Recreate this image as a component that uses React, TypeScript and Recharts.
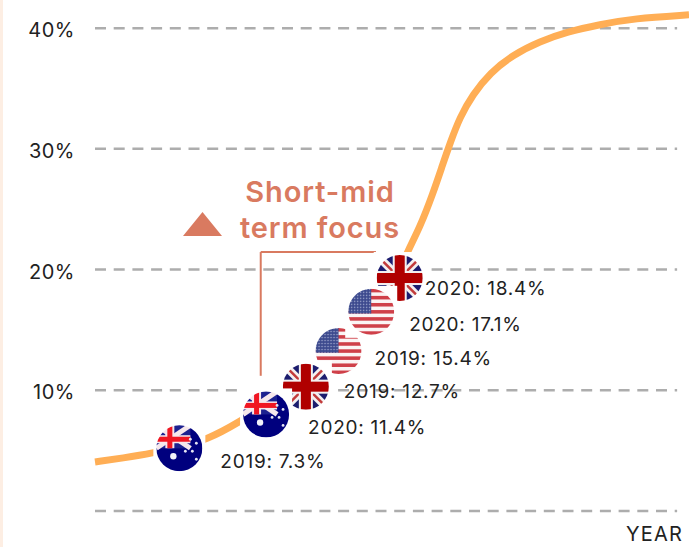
import { ComposedChart, Line, Scatter, XAxis, YAxis, ReferenceLine } from 'recharts'

const FONT = 'Inter, "Open Sans", sans-serif'
const ORANGE = '#ffae55'
const CORAL = '#d97a60'
const GRID = '#adadad'

// curve: x is a plain 0-100 position, the axis has no year ticks
const curveX = [0, 4.7, 9.8, 14, 18.9, 24.4, 28.8, 35.5, 40.9, 46.5, 51.3, 52.5, 54.7, 56.9, 58.6, 59.8, 61.4, 63.6, 66.5, 70.4, 74.9, 79.5, 85, 90.6, 100]
const curveY = [4.06, 4.39, 4.8, 5.3, 5.9, 7.4, 8.8, 11, 13.5, 16.65, 19.8, 21.4, 23.5, 26.3, 28.8, 30.5, 32.6, 34.5, 36.3, 37.8, 38.9, 39.7, 40.3, 40.8, 41.1]

// flags are listed in paint order, the white squares behind them overlap
const flagX = [51.3, 41, 46.5, 35.5, 28.8, 14.2]
const flagY = [19.3, 13.25, 16.5, 10.3, 8, 5.2]
const flagKind = ['uk', 'us', 'us', 'uk', 'au', 'au']
const flagText = ['2020: 18.4%', '2019: 15.4%', '2020: 17.1%', '2019: 12.7%', '2020: 11.4%', '2019: 7.3%']
const labelDx = [25, 36, 38, 38, 42, 41]
const labelDy = [10, 7, 13, 5, 13, 13]

const yTicks = [10, 20, 30, 40]
const gridLines = [0, 10, 20, 30, 40]
const gridEnd = 98

const curve = curveX.map((t, i) => ({ t, v: curveY[i] }))
const flags = flagX.map((t, i) => ({ t, v: flagY[i], kind: flagKind[i], text: flagText[i], dx: labelDx[i], dy: labelDy[i] }))

function UkFlag() {
  return (
    <g>
      <rect x={-23} y={-23} width={46} height={46} fill="#1b1f6e" />
      <line x1={-23} y1={-23} x2={23} y2={23} stroke="#f4f0f0" strokeWidth={8} />
      <line x1={-23} y1={23} x2={23} y2={-23} stroke="#f4f0f0" strokeWidth={8} />
      <line x1={-23} y1={-23} x2={23} y2={23} stroke="#c23a3a" strokeWidth={2.5} />
      <line x1={-23} y1={23} x2={23} y2={-23} stroke="#c23a3a" strokeWidth={2.5} />
      <rect x={-7} y={-23} width={14} height={46} fill="#f4f0f0" />
      <rect x={-23} y={-7} width={46} height={14} fill="#f4f0f0" />
      <rect x={-5} y={-23} width={10} height={46} fill="#b00000" />
      <rect x={-23} y={-5} width={46} height={10} fill="#b00000" />
    </g>
  )
}

function UsFlag() {
  const stripes = [0, 1, 2, 3, 4, 5, 6]
  return (
    <g>
      <rect x={-23} y={-23} width={46} height={46} fill="#fbf4f4" />
      {stripes.map(s => (
        <rect key={s} x={-23} y={-23 + s * 7.08} width={46} height={3.54} fill="#cf3f48" />
      ))}
      <rect x={-23} y={-23} width={23} height={24.8} fill="url(#usStars)" />
    </g>
  )
}

function AuFlag() {
  const stars = [[17, -5], [11, -9], [13, 3], [17, 11], [6, 3]]
  return (
    <g>
      <rect x={-23} y={-23} width={46} height={46} fill="#00007e" />
      <rect x={-23} y={-23} width={34} height={23} fill="#1f2090" />
      <line x1={-23} y1={-23} x2={11} y2={0} stroke="#f6e8ec" strokeWidth={5} />
      <line x1={-23} y1={0} x2={11} y2={-23} stroke="#f6e8ec" strokeWidth={5} />
      <rect x={-14} y={-23} width={9} height={23} fill="#f6e8ec" />
      <rect x={-23} y={-13} width={34} height={8} fill="#f6e8ec" />
      <rect x={-12} y={-23} width={5} height={23} fill="#f01424" />
      <rect x={-23} y={-11.5} width={34} height={5} fill="#f01424" />
      <circle cx={-6} cy={8} r={3.2} fill="#f2f2fa" />
      {stars.map(([x, y]) => (
        <circle key={`${x}-${y}`} cx={x} cy={y} r={1.4} fill="#e6e6f4" />
      ))}
    </g>
  )
}

const FlagMark = ({ cx, cy, kind }: any) => (
  <g transform={`translate(${cx},${cy})`}>
    <rect x={-26} y={-26} width={52} height={52} fill="#fff" />
    <g clipPath="url(#flagClip)">
      <g filter="url(#flagSoft)">
        {kind === 'uk' && <UkFlag />}
        {kind === 'us' && <UsFlag />}
        {kind === 'au' && <AuFlag />}
      </g>
    </g>
  </g>
)

const FlagLabel = ({ cx, cy, text, dx, dy }: any) => (
  <text x={cx + dx} y={cy + dy} dominantBaseline="central" fontFamily={FONT} fontSize={19} fill="#222" letterSpacing={0.75}>
    {text}
  </text>
)

export default function App() {
  return (
    <div style={{ position: 'absolute', left: 0, top: 0, width: 689, height: 547, background: '#fff', overflow: 'hidden', fontFamily: FONT }}>
      <div style={{ position: 'absolute', left: 0, top: 0, width: 3, height: 547, background: '#fdeee3' }} />
      <ComposedChart width={689} height={547} margin={{ top: 4, right: 0, left: 0, bottom: 0 }}>
        <defs>
          <clipPath id="flagClip">
            <circle cx={0} cy={0} r={23} />
          </clipPath>
          <pattern id="usStars" width={3} height={3} patternUnits="userSpaceOnUse">
            <rect width={3} height={3} fill="#3c4a8e" />
            <circle cx={1.5} cy={1.5} r={0.7} fill="#aeb6d8" />
          </pattern>
          <filter id="flagSoft" x="-10%" y="-10%" width="120%" height="120%">
            <feGaussianBlur stdDeviation={0.5} />
          </filter>
        </defs>
        <XAxis
          dataKey="t"
          type="number"
          domain={[0, 100]}
          height={36}
          axisLine={false}
          tickLine={false}
          tick={false}
          label={{ value: 'YEAR', position: 'insideBottomRight', offset: 6, fill: '#222', fontSize: 20, fontFamily: FONT, letterSpacing: 1.2 }}
        />
        <YAxis
          type="number"
          domain={[0, 42]}
          ticks={yTicks}
          width={95}
          axisLine={false}
          tickLine={false}
          tickMargin={14}
          tickFormatter={v => `${v}%`}
          tick={{ fill: '#222', fontSize: 20, fontFamily: FONT, dy: 2, letterSpacing: 0.5 }}
        />
        {gridLines.map(v => (
          <ReferenceLine key={v} segment={[{ x: 0, y: v }, { x: gridEnd, y: v }]} stroke={GRID} strokeWidth={2.5} strokeDasharray="11 7.7" />
        ))}
        <ReferenceLine segment={[{ x: 27.9, y: 11.2 }, { x: 27.9, y: 21.45 }]} stroke={CORAL} strokeWidth={2} />
        <ReferenceLine segment={[{ x: 27.9, y: 21.45 }, { x: 47.3, y: 21.45 }]} stroke={CORAL} strokeWidth={2} />
        <Line data={curve} dataKey="v" type="basis" stroke={ORANGE} strokeWidth={7} dot={false} isAnimationActive={false} />
        <Scatter data={flags} dataKey="v" shape={FlagMark} isAnimationActive={false} />
        <Scatter data={flags} dataKey="v" shape={FlagLabel} isAnimationActive={false} />
      </ComposedChart>
      <div style={{ position: 'absolute', left: 183, top: 212, width: 39, height: 24, background: CORAL, clipPath: 'polygon(50% 0, 100% 100%, 0 100%)' }} />
      <div style={{ position: 'absolute', left: 210, top: 174, width: 220, textAlign: 'center', color: CORAL, fontSize: 29, fontWeight: 600, lineHeight: '36px', letterSpacing: 0.9 }}>
        Short-mid
        <br />
        term focus
      </div>
    </div>
  )
}
